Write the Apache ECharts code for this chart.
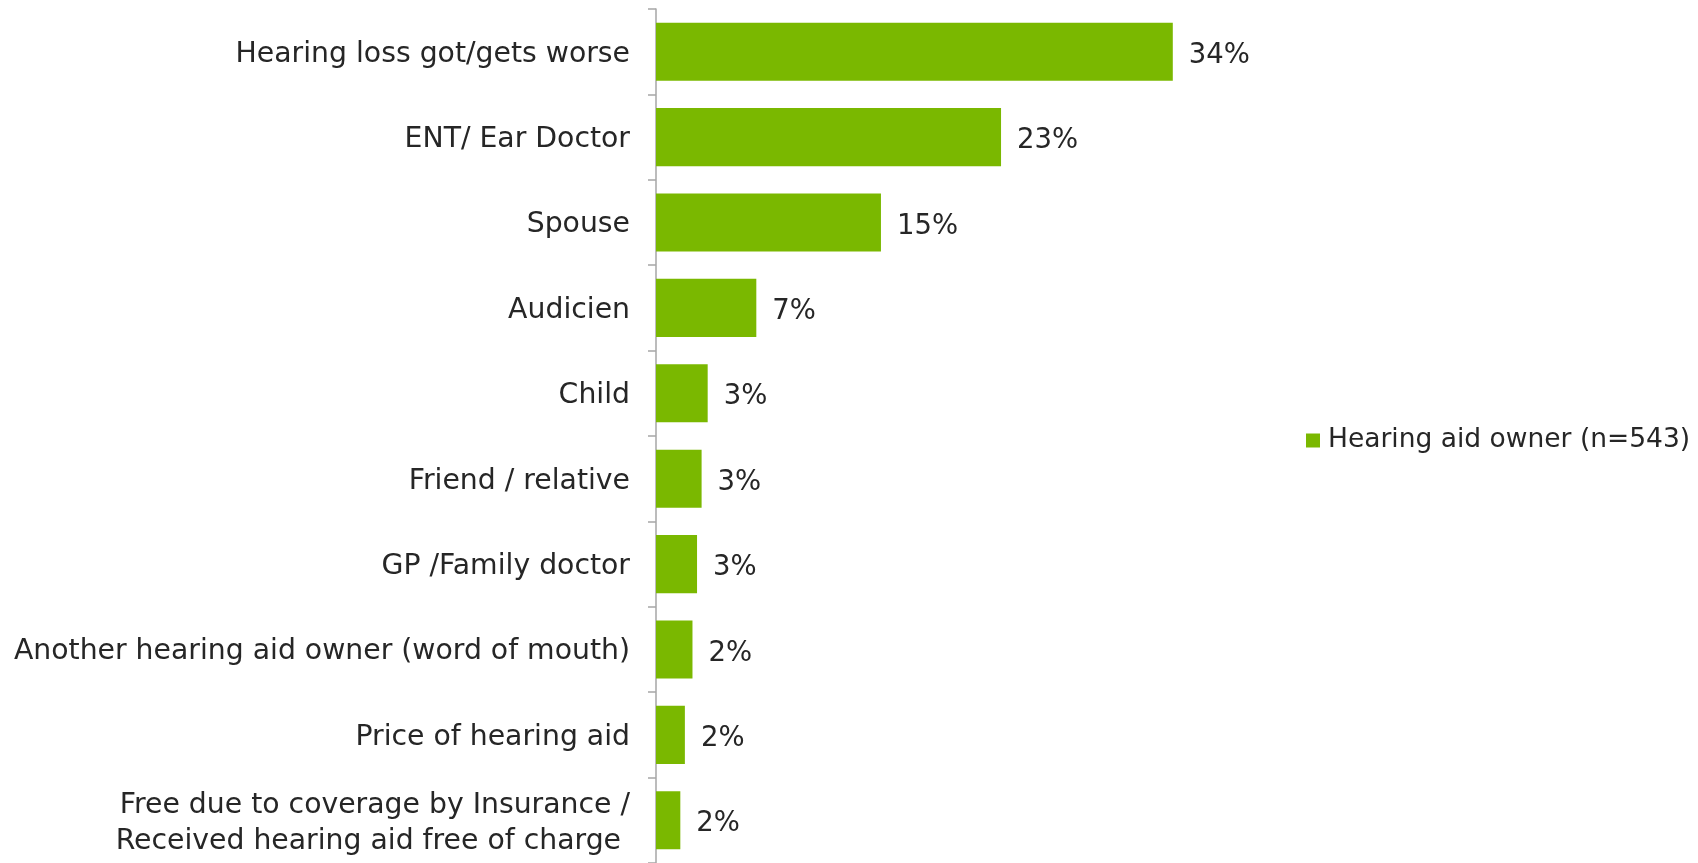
<!DOCTYPE html>
<html>
<head>
<meta charset="utf-8">
<script src="https://cdn.jsdelivr.net/npm/echarts@6/dist/echarts.min.js"></script>
<style>
html,body{margin:0;padding:0;background:#fff;}
#chart{width:1698px;height:863px;}
</style>
</head>
<body>
<div id="chart"></div>
<script>
const categories = [
  "Hearing loss got/gets worse",
  "ENT/ Ear Doctor",
  "Spouse",
  "Audicien",
  "Child",
  "Friend / relative",
  "GP /Family doctor",
  "Another hearing aid owner (word of mouth)",
  "Price of hearing aid",
  "Free due to coverage by Insurance /\nReceived hearing aid free of charge "
];
const seriesName = "Hearing aid owner (n=543)";
const values = [34.0, 22.7, 14.8, 6.6, 3.4, 3.0, 2.7, 2.4, 1.9, 1.6];

const font = "'DejaVu Sans', Verdana, sans-serif";
const chart = echarts.init(document.getElementById('chart'), null, {renderer: 'canvas'});
chart.setOption({
  animation: false,
  backgroundColor: '#ffffff',
  grid: {left: 656, top: 9, width: 608, bottom: -3, containLabel: false},
  legend: {
    data: [seriesName],
    left: 1301, top: 422,
    icon: 'rect', itemWidth: 14, itemHeight: 14,
    textStyle: {fontFamily: font, fontSize: 26.5, color: '#262626', padding: [0,0,0,3]}
  },
  xAxis: {
    type: 'value', min: 0, max: 40,
    show: false,
    splitLine: {show: false}
  },
  yAxis: {
    type: 'category',
    inverse: true,
    data: categories,
    axisLine: {show: true, lineStyle: {color: '#a6a6a6', width: 1.5}},
    axisTick: {show: true, length: 8, lineStyle: {color: '#a6a6a6', width: 1.5}},
    axisLabel: {
      fontFamily: font, fontSize: 28.3, color: '#262626', margin: 26, align: 'right',
      formatter: v => {
        const lines = v.split('\n');
        const st = lines.length > 1 ? 'b' : 'a';
        return lines.map(s => '{' + st + '|' + s + '}').join('\n');
      },
      rich: {
        a: {fontFamily: font, fontSize: 28.3, color: '#262626', lineHeight: 34, padding: [5, 0, 0, 0]},
        b: {fontFamily: font, fontSize: 28.3, color: '#262626', lineHeight: 36, padding: [7, 0, 0, 0]}
      }
    }
  },
  series: [{
    name: seriesName,
    type: 'bar',
    data: values,
    barCategoryGap: '32%',
    itemStyle: {color: '#7ab800'},
    label: {
      show: true, position: 'right', distance: 16, offset: [0, 4],
      fontFamily: font, fontSize: 27.5, color: '#262626',
      formatter: p => Math.round(p.value) + '%'
    }
  }]
});
</script>
</body>
</html>
